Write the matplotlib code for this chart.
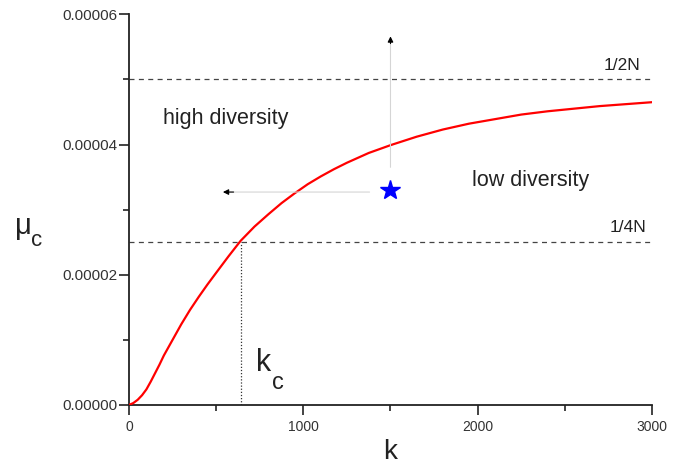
import matplotlib.pyplot as plt
from matplotlib.ticker import MultipleLocator, FormatStrFormatter

plt.rcParams['font.family'] = ['Liberation Sans', 'DejaVu Sans']

# red curve
k = [0, 25, 50, 75, 100, 125, 150, 175, 200, 250, 300, 350, 400, 450, 500,
     570, 640, 720, 800, 875, 950, 1025, 1100, 1175, 1250, 1375, 1500, 1650,
     1800, 1950, 2100, 2250, 2400, 2550, 2700, 2850, 3000]
mu = [0, 0.3e-6, 0.8e-6, 1.5e-6, 2.4e-6, 3.6e-6, 4.9e-6, 6.2e-6, 7.6e-6,
      1.0e-5, 1.24e-5, 1.46e-5, 1.66e-5, 1.85e-5, 2.03e-5, 2.28e-5, 2.52e-5,
      2.74e-5, 2.93e-5, 3.10e-5, 3.25e-5, 3.39e-5, 3.51e-5, 3.62e-5, 3.72e-5,
      3.87e-5, 3.99e-5, 4.12e-5, 4.23e-5, 4.32e-5, 4.39e-5, 4.46e-5, 4.51e-5,
      4.55e-5, 4.59e-5, 4.62e-5, 4.65e-5]

half_N = 5e-5
quarter_N = 2.5e-5
k_c = 640
star_k, star_mu = 1500, 3.3e-5

fig = plt.figure(figsize=(6.89, 4.67), dpi=100)
ax = fig.add_axes([0.1872, 0.1328, 0.7591, 0.8366])

ax.plot(k, mu, color='red', lw=1.6, zorder=3)
ax.axhline(half_N, color='#444444', lw=0.9, ls=(0, (4, 3.5)))
ax.axhline(quarter_N, color='#444444', lw=0.9, ls=(0, (4, 3.5)))
ax.plot([k_c, k_c], [0, quarter_N], color='#333333', lw=0.9, ls=(0, (1, 1.5)))

# arrows from the star: pale shaft, black head
ax.annotate('', xy=(star_k, 5.66e-5), xytext=(star_k, 3.65e-5),
            arrowprops=dict(arrowstyle='-|>', color='#d5d5d5', lw=0.8,
                            mutation_scale=8, shrinkA=0, shrinkB=0))
ax.annotate('', xy=(539, 3.27e-5), xytext=(1380, 3.27e-5),
            arrowprops=dict(arrowstyle='-|>', color='#d5d5d5', lw=0.8,
                            mutation_scale=8, shrinkA=0, shrinkB=0))
ax.annotate('', xy=(star_k, 5.66e-5), xytext=(star_k, 5.55e-5),
            arrowprops=dict(arrowstyle='-|>', color='black', lw=0.8,
                            mutation_scale=8, shrinkA=0, shrinkB=0))
ax.annotate('', xy=(539, 3.27e-5), xytext=(600, 3.27e-5),
            arrowprops=dict(arrowstyle='-|>', color='black', lw=0.8,
                            mutation_scale=8, shrinkA=0, shrinkB=0))

ax.plot(star_k, star_mu, marker='*', color='blue', ms=15, zorder=4)

txt = '#222222'
ax.text(195, 4.4e-5, 'high diversity', fontsize=15.5, va='center', color=txt)
ax.text(1968, 3.45e-5, 'low diversity', fontsize=15.5, va='center', color=txt)
ax.text(2935, 5.22e-5, '1/2N', fontsize=12.5, ha='right', va='center', color=txt)
ax.text(2968, 2.72e-5, '1/4N', fontsize=12.5, ha='right', va='center', color=txt)
ax.text(730, 6.5e-6, 'k', fontsize=22, va='center', color=txt)
ax.text(822, 3.4e-6, 'c', fontsize=17, va='center', color=txt)

# y label: mu with a dropped subscript
fig.text(0.022, 0.515, 'μ', fontsize=21, va='center', color=txt)
fig.text(0.045, 0.484, 'c', fontsize=16, va='center', color=txt)

ax.set_xlim(0, 3000)
ax.set_ylim(0, 6e-5)
ax.xaxis.set_major_locator(MultipleLocator(1000))
ax.xaxis.set_minor_locator(MultipleLocator(500))
ax.yaxis.set_major_locator(MultipleLocator(2e-5))
ax.yaxis.set_minor_locator(MultipleLocator(1e-5))
ax.yaxis.set_major_formatter(FormatStrFormatter('%.5f'))

for s in ['top', 'right']:
    ax.spines[s].set_visible(False)
for s in ['left', 'bottom']:
    ax.spines[s].set_linewidth(1.3)
    ax.spines[s].set_color('#222222')
ax.tick_params(which='major', direction='out', length=7, width=1.2,
               labelsize=10, labelcolor='#333333', color='#222222')
ax.tick_params(axis='y', which='major', labelsize=11, pad=1.5)
ax.tick_params(which='minor', direction='out', length=4, width=1.2, color='#222222')

ax.set_xlabel('k', fontsize=20, color=txt, labelpad=4)

fig.savefig('out.png', dpi=100)
